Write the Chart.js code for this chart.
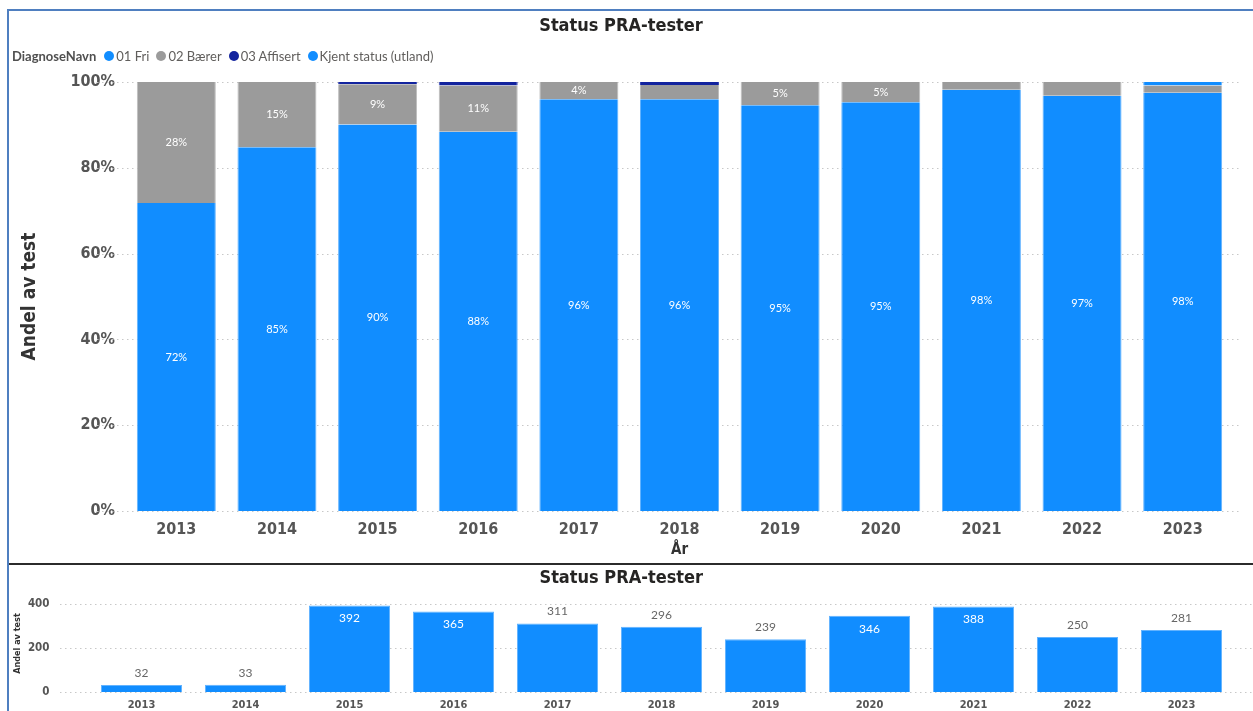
<!DOCTYPE html>
<html>
<head>
<meta charset="utf-8">
<script src="https://cdn.jsdelivr.net/npm/chart.js@4/dist/chart.umd.min.js"></script>
<style>
    body { margin: 0; background: #fff; width: 1253px; height: 711px; overflow: hidden; position: relative; }
    #frame { position: absolute; left: 7px; top: 9px; width: 1246px; height: 702px; border-top: 2px solid #4f7fc0; border-left: 2px solid #4f7fc0; box-sizing: border-box; }
    #sep { position: absolute; left: 9px; top: 563px; width: 1244px; height: 2px; background: #2b2b2b; }
    #AndelChart { position: absolute; left: 9px; top: 11px; }
    #AntallChart { position: absolute; left: 9px; top: 566px; }
    #legend { position: absolute; left: 12px; top: 48px; font-family: Lato, "Open Sans", sans-serif; font-size: 13px; color: #605e5c; display: flex; align-items: center; white-space: nowrap; }
    #legend b { color: #505050; margin-right: 8px; }
    #legend .item { display: flex; align-items: center; margin-right: 7px; }
    #legend .dot { width: 10px; height: 10px; border-radius: 50%; margin-right: 2px; }
</style>
</head>
<body>
<div id="frame"></div>
<canvas id="AndelChart" width="1244" height="552"></canvas>
<div id="sep"></div>
<canvas id="AntallChart" width="1244" height="145"></canvas>
<div id="legend"></div>
<script>
    // kategorier og verdier (lest av bildet)
    const years = ['2013', '2014', '2015', '2016', '2017', '2018', '2019', '2020', '2021', '2022', '2023'];

    const friData = [71.8, 84.8, 90.1, 88.4, 96.0, 96.0, 94.6, 95.3, 98.2, 96.8, 97.5];
    const baererData = [28.2, 15.2, 9.4, 10.8, 4.0, 3.3, 5.4, 4.7, 1.8, 3.2, 1.7];
    const affisertData = [0, 0, 0.5, 0.8, 0, 0.7, 0, 0, 0, 0, 0];
    const utlandData = [0, 0, 0, 0, 0, 0, 0, 0, 0, 0, 0.8];

    const antallData = [32, 33, 392, 365, 311, 296, 239, 346, 388, 250, 281];

    const pctTicks = [0, 20, 40, 60, 80, 100];
    const antallTicks = [0, 200, 400];

    const seriesNames = ['01 Fri', '02 Bærer', '03 Affisert', 'Kjent status (utland)'];
    const seriesColors = ['#118dff', '#9b9b9b', '#12239e', '#118dff'];
    const seriesBorders = ['#62b3ff', '#bdbdbd', '#3a4ab8', '#62b3ff'];

    const axisFont = 'DejaVu Sans Condensed';
    const labelFont = 'Lato';

    // legende
    const legendDiv = document.getElementById('legend');
    let html = '<b>DiagnoseNavn</b>';
    for (let k = 0; k < seriesNames.length; k++) {
        html += '<span class="item"><span class="dot" style="background:' + seriesColors[k] + '"></span>' + seriesNames[k] + '</span>';
    }
    legendDiv.innerHTML = html;

    // prikkete gridlinjer som går litt utenfor plottet
    const dottedGrid = {
        id: 'dottedGrid',
        beforeDatasetsDraw(chart, args, opts) {
            const ctx = chart.ctx;
            const yScale = chart.scales.y;
            const area = chart.chartArea;
            ctx.save();
            ctx.strokeStyle = '#c8c8c8';
            ctx.lineWidth = 1;
            ctx.setLineDash([1.5, 3.5]);
            yScale.ticks.forEach(function (t) {
                const y = Math.round(yScale.getPixelForValue(t.value)) + 0.5;
                ctx.beginPath();
                ctx.moveTo(area.left - opts.extLeft, y);
                ctx.lineTo(area.right + opts.extRight, y);
                ctx.stroke();
            });
            ctx.restore();
        }
    };

    // prosentetiketter inne i søylene
    const pctLabels = {
        id: 'pctLabels',
        afterDatasetsDraw(chart) {
            const ctx = chart.ctx;
            ctx.save();
            ctx.font = '11px ' + labelFont;
            ctx.fillStyle = '#ffffff';
            ctx.textAlign = 'center';
            ctx.textBaseline = 'middle';
            chart.data.datasets.forEach(function (ds, i) {
                const meta = chart.getDatasetMeta(i);
                meta.data.forEach(function (bar, j) {
                    const v = ds.data[j];
                    if (v >= 3.9) {
                        ctx.fillText(Math.round(v) + '%', bar.x, (bar.y + bar.base) / 2);
                    }
                });
            });
            ctx.restore();
        }
    };

    // antall-etiketter, inne i store søyler og over små
    const countLabels = {
        id: 'countLabels',
        afterDatasetsDraw(chart) {
            const ctx = chart.ctx;
            const ds = chart.data.datasets[0];
            const meta = chart.getDatasetMeta(0);
            ctx.save();
            ctx.font = '12px ' + labelFont;
            ctx.textAlign = 'center';
            ctx.textBaseline = 'middle';
            meta.data.forEach(function (bar, j) {
                const v = ds.data[j];
                if (v >= 340) {
                    ctx.fillStyle = '#ffffff';
                    ctx.fillText(String(v), bar.x, bar.y + 13);
                } else {
                    ctx.fillStyle = '#666666';
                    ctx.fillText(String(v), bar.x, bar.y - 12);
                }
            });
            ctx.restore();
        }
    };

    const andelDatasets = [];
    const andelValues = [friData, baererData, affisertData, utlandData];
    for (let k = 0; k < seriesNames.length; k++) {
        andelDatasets.push({
            label: seriesNames[k],
            data: andelValues[k],
            backgroundColor: seriesColors[k],
            borderColor: seriesBorders[k],
            borderWidth: { left: 1, right: 1, top: 0, bottom: 0 },
            barPercentage: 0.785,
            categoryPercentage: 1
        });
    }

    const andelconfig = {
        type: 'bar',
        data: {
            labels: years,
            datasets: andelDatasets
        },
        options: {
            responsive: false,
            animation: false,
            layout: { padding: { left: 0, right: 20, top: 0, bottom: 0 } },
            scales: {
                x: {
                    stacked: true,
                    grid: { display: false },
                    border: { display: false },
                    ticks: { color: '#555555', padding: 1, font: { family: axisFont, size: 16, weight: 'bold' } },
                    title: { display: true, text: 'År', color: '#333333', padding: { top: 0, bottom: 4 }, font: { family: axisFont, size: 15, weight: 'bold' } },
                    afterFit: function (s) { s.height = 52; }
                },
                y: {
                    stacked: true,
                    min: 0,
                    max: 100,
                    grid: { display: false },
                    border: { display: false },
                    afterBuildTicks: function (s) { s.ticks = pctTicks.map(function (v) { return { value: v }; }); },
                    ticks: {
                        color: '#555555',
                        padding: 3,
                        font: { family: axisFont, size: 16, weight: 'bold' },
                        callback: function (v) { return v + '%'; }
                    },
                    title: { display: true, text: 'Andel av test', color: '#333333', padding: { top: 10, bottom: 0 }, font: { family: axisFont, size: 19, weight: 'bold' } },
                    afterFit: function (s) { s.width = 117; }
                }
            },
            plugins: {
                legend: { display: false },
                tooltip: { enabled: false },
                title: {
                    display: true,
                    text: 'Status PRA-tester',
                    color: '#252423',
                    padding: { top: 5, bottom: 44.4 },
                    font: { family: axisFont, size: 18, weight: 'bold' }
                },
                dottedGrid: { extLeft: 29, extRight: 8 }
            }
        },
        plugins: [dottedGrid, pctLabels]
    };

    const antallconfig = {
        type: 'bar',
        data: {
            labels: years,
            datasets: [{
                label: 'Andel av test',
                data: antallData,
                backgroundColor: '#118dff',
                borderColor: '#62b3ff',
                borderWidth: 1,
                barPercentage: 0.78,
                categoryPercentage: 1
            }]
        },
        options: {
            responsive: false,
            animation: false,
            layout: { padding: { left: 0, right: 19.5, top: 0, bottom: 0 } },
            scales: {
                x: {
                    grid: { display: false, drawTicks: false },
                    border: { display: false },
                    ticks: { color: '#555555', padding: 7, font: { family: axisFont, size: 11, weight: 'bold' } },
                    afterFit: function (s) { s.height = 19; }
                },
                y: {
                    min: 0,
                    max: 440,
                    // tickLength gir avstand til etikettene uten å påvirke høyden
                    grid: { display: false, tickLength: 37 },
                    border: { display: false },
                    afterBuildTicks: function (s) { s.ticks = antallTicks.map(function (v) { return { value: v }; }); },
                    ticks: { color: '#555555', padding: 3, font: { family: axisFont, size: 11.5, weight: 'bold' } },
                    title: { display: true, text: 'Andel av test', color: '#333333', padding: { top: 3.5, bottom: 0 }, font: { family: axisFont, size: 9, weight: 'bold' } },
                    afterFit: function (s) { s.width = 80.5; }
                }
            },
            plugins: {
                legend: { display: false },
                tooltip: { enabled: false },
                title: {
                    display: true,
                    text: 'Status PRA-tester',
                    color: '#252423',
                    padding: { top: 2, bottom: 5.4 },
                    font: { family: axisFont, size: 18, weight: 'bold' }
                },
                dottedGrid: { extLeft: 29.5, extRight: 28 }
            }
        },
        plugins: [dottedGrid, countLabels]
    };

    new Chart(document.getElementById('AndelChart'), andelconfig);
    new Chart(document.getElementById('AntallChart'), antallconfig);
</script>
</body>
</html>
